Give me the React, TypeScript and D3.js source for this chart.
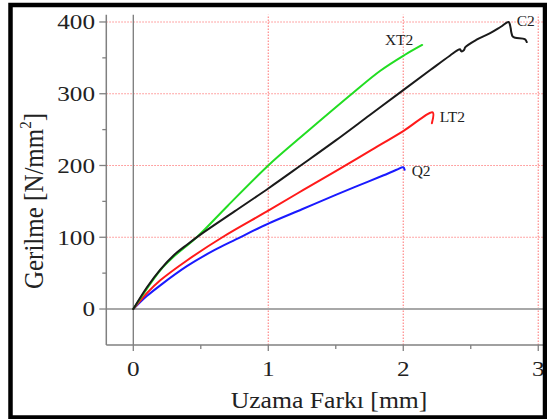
import React, { useEffect, useRef } from 'react'
import * as d3 from 'd3'

// tick values
const xTicks = [0, 1, 2, 3]
const xMinorTicks = [0.5, 1.5, 2.5]
const yTicks = [0, 100, 200, 300, 400]
const yMinorTicks = [50, 150, 250, 350]
const xGrid = [1, 2, 3]
const yGrid = [100, 200, 300, 400]

// C2 (black)
const c2Strain = [0, 0.1, 0.2, 0.3, 0.4, 0.5, 0.75, 1.0, 1.24, 1.5, 1.75, 2.0, 2.2, 2.345, 2.42, 2.43, 2.45, 2.46, 2.54, 2.64, 2.72, 2.78, 2.795, 2.80, 2.81, 2.83, 2.9, 2.915]
const c2Stress = [0, 30, 55, 75, 90, 104, 136, 168, 200, 235, 270, 305, 333, 353, 362, 359, 361, 365, 375, 384, 393, 400, 392, 386, 380, 378, 376, 372]

// XT2 (green)
const xt2Strain = [0, 0.1, 0.2, 0.3, 0.47, 0.7, 1.0, 1.25, 1.62, 1.83, 2.01, 2.14]
const xt2Stress = [0, 28, 54, 73, 100, 144, 200, 241, 300, 332, 354, 368]

// LT2 (red)
const lt2Strain = [0, 0.1, 0.2, 0.4, 0.66, 1.0, 1.26, 1.5, 1.75, 2.0, 2.218, 2.212]
const lt2Stress = [0, 22, 40, 68, 100, 137, 166, 192, 220, 248, 274, 259]

// Q2 (blue)
const q2Strain = [0, 0.1, 0.2, 0.4, 0.6, 0.76, 1.0, 1.25, 1.5, 1.68, 1.85, 1.95, 2.0, 2.01]
const q2Stress = [0, 18, 33, 60, 82, 97, 119, 139, 159, 173, 186, 194, 197.5, 194]

// curve label anchors (data units)
const labelNames = ['C2', 'XT2', 'LT2', 'Q2']
const labelStrain = [2.84, 1.864, 2.27, 2.062]
const labelStress = [394, 368, 261, 185]

const W = 547
const H = 419

const App = () => {
  const ref = useRef<SVGSVGElement>(null)

  useEffect(() => {
    const svg = d3.select(ref.current)
    svg.selectAll('*').remove()

    const x = d3.scaleLinear().domain([-0.2, 3.05]).range([106.3, 545])
    const y = d3.scaleLinear().domain([-50, 410]).range([344.9, 14.8])
    const [x0, x1] = x.domain()
    const [y0, y1] = y.domain()

    svg.append('rect').attr('width', W).attr('height', H).attr('fill', '#fff')

    const plot = svg.append('g')

    // red dotted grid
    plot.selectAll('.gx').data(xGrid).enter().append('line')
      .attr('x1', d => x(d)).attr('x2', d => x(d))
      .attr('y1', y(y0)).attr('y2', y(y1))
      .attr('stroke', '#ff8a8a').attr('stroke-width', 1.2).attr('stroke-dasharray', '1.5 1.5')
    plot.selectAll('.gy').data(yGrid).enter().append('line')
      .attr('x1', x(x0)).attr('x2', x(x1))
      .attr('y1', d => y(d)).attr('y2', d => y(d))
      .attr('stroke', '#ff8a8a').attr('stroke-width', 1.2).attr('stroke-dasharray', '1.5 1.5')

    // zero lines
    plot.append('line').attr('x1', x(x0)).attr('x2', x(x1)).attr('y1', y(0)).attr('y2', y(0))
      .attr('stroke', '#a8a8a8').attr('stroke-width', 2.2)
    plot.append('line').attr('x1', x(0)).attr('x2', x(0)).attr('y1', y(y0)).attr('y2', y(y1))
      .attr('stroke', '#7a7a7a').attr('stroke-width', 1.3)

    // axes
    const axisColor = '#808080'
    plot.append('line').attr('x1', x(x0)).attr('x2', x(x0)).attr('y1', y(y0)).attr('y2', y(y1))
      .attr('stroke', axisColor).attr('stroke-width', 1.5)
    plot.append('line').attr('x1', x(x0)).attr('x2', x(x1)).attr('y1', y(y0)).attr('y2', y(y0))
      .attr('stroke', axisColor).attr('stroke-width', 1.5)

    plot.selectAll('.ty').data(yTicks).enter().append('line')
      .attr('x1', x(x0) - 7).attr('x2', x(x0)).attr('y1', d => y(d)).attr('y2', d => y(d))
      .attr('stroke', axisColor).attr('stroke-width', 1.3)
    plot.selectAll('.tym').data(yMinorTicks).enter().append('line')
      .attr('x1', x(x0) - 4).attr('x2', x(x0)).attr('y1', d => y(d)).attr('y2', d => y(d))
      .attr('stroke', axisColor).attr('stroke-width', 1.3)
    plot.selectAll('.tx').data(xTicks).enter().append('line')
      .attr('x1', d => x(d)).attr('x2', d => x(d)).attr('y1', y(y0)).attr('y2', y(y0) + 6)
      .attr('stroke', axisColor).attr('stroke-width', 1.3)
    plot.selectAll('.txm').data(xMinorTicks).enter().append('line')
      .attr('x1', d => x(d)).attr('x2', d => x(d)).attr('y1', y(y0)).attr('y2', y(y0) + 4)
      .attr('stroke', axisColor).attr('stroke-width', 1.3)

    const font = "'Liberation Serif', 'Times New Roman', serif"

    // tick labels
    plot.selectAll('.ly').data(yTicks).enter().append('text')
      .attr('transform', d => `translate(95,${y(d)}) scale(1.2,1)`)
      .attr('dy', '0.35em').attr('text-anchor', 'end')
      .attr('font-family', font).attr('font-size', 21).attr('fill', '#222')
      .text(d => d)
    plot.selectAll('.lx').data(xTicks).enter().append('text')
      .attr('transform', d => `translate(${x(d)},376) scale(1.2,1)`)
      .attr('text-anchor', 'middle')
      .attr('font-family', font).attr('font-size', 21).attr('fill', '#222')
      .text(d => d)

    // axis titles
    plot.append('text')
      .attr('transform', 'translate(329,408) scale(1.07,1)')
      .attr('text-anchor', 'middle')
      .attr('font-family', font).attr('font-size', 24).attr('fill', '#222')
      .text('Uzama Farkı [mm]')
    const yt = plot.append('text')
      .attr('transform', 'translate(43,201) scale(1.1,1) rotate(-90)')
      .attr('text-anchor', 'middle')
      .attr('font-family', font).attr('font-size', 25).attr('fill', '#222')
    yt.append('tspan').text('Gerilme [N/mm')
    yt.append('tspan').attr('dy', -11).attr('font-size', 15).text('2')
    yt.append('tspan').attr('dy', 11).text(']')

    // curves
    const line = d3.line<[number, number]>()
      .x(d => x(d[0])).y(d => y(d[1]))
      .curve(d3.curveCatmullRom.alpha(0.5))
    const series = [
      { sx: q2Strain, sy: q2Stress, color: '#1a1aff' },
      { sx: lt2Strain, sy: lt2Stress, color: '#ff1a1a' },
      { sx: xt2Strain, sy: xt2Stress, color: '#22dd22' },
      { sx: c2Strain, sy: c2Stress, color: '#1a1a1a' },
    ]
    series.forEach(s => {
      const pts = s.sx.map((v, i) => [v, s.sy[i]] as [number, number])
      plot.append('path').attr('d', line(pts))
        .attr('fill', 'none').attr('stroke', s.color).attr('stroke-width', 2)
        .attr('stroke-linejoin', 'round').attr('stroke-linecap', 'round')
    })

    // curve labels
    plot.selectAll('.cl').data(labelNames).enter().append('text')
      .attr('x', (d, i) => x(labelStrain[i])).attr('y', (d, i) => y(labelStress[i]))
      .attr('font-family', font).attr('font-size', 15.5).attr('fill', '#222')
      .text(d => d)

    // outer frame
    svg.append('rect').attr('x', 10.5).attr('y', 5).attr('width', 534.5).attr('height', 412.5)
      .attr('fill', 'none').attr('stroke', '#000').attr('stroke-width', 4.5)
  }, [])

  return (
    <svg ref={ref} width={W} height={H} style={{ position: 'fixed', left: 0, top: 0 }} />
  )
}

export default App
